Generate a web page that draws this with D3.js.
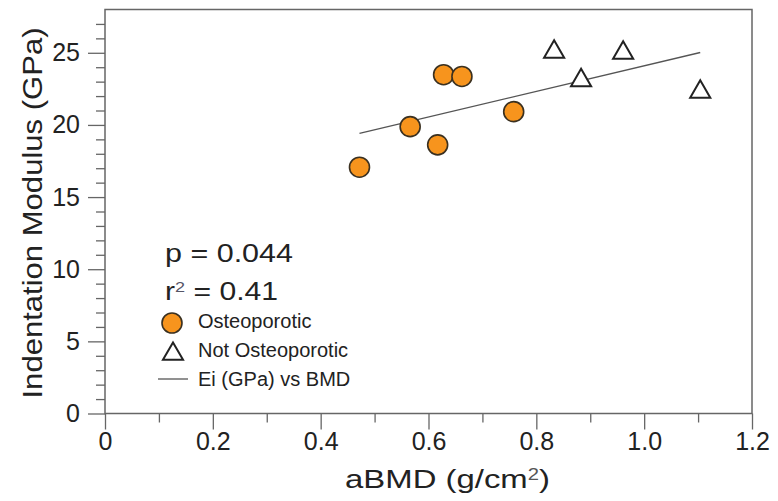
<!DOCTYPE html>
<html>
<head>
<meta charset="utf-8">
<script src="https://cdn.jsdelivr.net/npm/d3@7"></script>
<style>
  body { margin: 0; background: #fff; }
  text { font-family: "Liberation Sans", Arial, Helvetica, sans-serif; fill: #222; }
</style>
</head>
<body>
<div id="chart"></div>
<script>
// Osteoporotic samples (aBMD g/cm2, indentation modulus GPa)
const osteoBMD = [0.472, 0.566, 0.628, 0.662, 0.617, 0.758];
const osteoEi  = [17.07, 19.88, 23.48, 23.36, 18.62, 20.92];

// Not osteoporotic samples
const notOsteoBMD = [0.833, 0.961, 0.883, 1.104];
const notOsteoEi  = [25.06, 24.99, 23.09, 22.29];

// Fit line end points
const fitBMD = [0.472, 1.104];
const fitEi  = [19.42, 25.02];

const xTicks = [0, 0.2, 0.4, 0.6, 0.8, 1.0, 1.2];
const xTickLabels = ["0", "0.2", "0.4", "0.6", "0.8", "1.0", "1.2"];
const yTicks = [0, 5, 10, 15, 20, 25];
const legendLabels = ["Osteoporotic", "Not Osteoporotic", "Ei (GPa) vs BMD"];

const W = 778, H = 501;
const svg = d3.select("#chart").append("svg")
    .attr("width", W)
    .attr("height", H);

const x = d3.scaleLinear().domain([0, 1.2]).range([105, 752]);
const y = d3.scaleLinear().domain([0, 28]).range([413.5, 9.5]);

const axisColor = "#666";
const orange = "#f7941d";

// minor ticks
const xMinor = d3.range(0.1, 1.2, 0.2);
const yMinor = d3.range(1, 28).filter(v => v % 5 !== 0);

svg.append("g")
    .attr("transform", `translate(0,${y(0)})`)
    .call(d3.axisBottom(x).tickValues(xMinor).tickSize(9).tickFormat(""))
    .call(g => g.select(".domain").remove());

svg.append("g")
    .attr("transform", `translate(${x(0)},0)`)
    .call(d3.axisLeft(y).tickValues(yMinor).tickSize(9).tickFormat(""))
    .call(g => g.select(".domain").remove());

// major ticks with labels
const xAxis = svg.append("g")
    .attr("transform", `translate(0,${y(0)})`)
    .call(d3.axisBottom(x).tickValues(xTicks).tickSize(16).tickPadding(3)
        .tickFormat((d, i) => xTickLabels[i]))
    .call(g => g.select(".domain").remove());

const yAxis = svg.append("g")
    .attr("transform", `translate(${x(0)},0)`)
    .call(d3.axisLeft(y).tickValues(yTicks).tickSize(17).tickPadding(8))
    .call(g => g.select(".domain").remove());

svg.selectAll(".tick line").attr("stroke", axisColor).attr("stroke-width", 1.3);
svg.selectAll(".tick text")
    .attr("font-family", "Liberation Sans, Arial, sans-serif")
    .attr("font-size", 25)
    .attr("fill", "#222");

// frame
svg.append("rect")
    .attr("x", x(0))
    .attr("y", y(28))
    .attr("width", x(1.2) - x(0))
    .attr("height", y(0) - y(28))
    .attr("fill", "none")
    .attr("stroke", axisColor)
    .attr("stroke-width", 1.5);

// fit line
svg.append("line")
    .attr("x1", x(fitBMD[0]))
    .attr("y1", y(fitEi[0]))
    .attr("x2", x(fitBMD[1]))
    .attr("y2", y(fitEi[1]))
    .attr("stroke", "#555")
    .attr("stroke-width", 1.3);

// osteoporotic circles
svg.selectAll(".osteo")
    .data(osteoBMD)
    .enter()
    .append("circle")
    .attr("class", "osteo")
    .attr("cx", d => x(d))
    .attr("cy", (d, i) => y(osteoEi[i]))
    .attr("r", 10)
    .attr("fill", orange)
    .attr("stroke", "#3a3020")
    .attr("stroke-width", 1.6);

// not osteoporotic triangles
const tri = d3.symbol().type(d3.symbolTriangle).size(175);
svg.selectAll(".notosteo")
    .data(notOsteoBMD)
    .enter()
    .append("path")
    .attr("class", "notosteo")
    .attr("d", tri)
    .attr("transform", (d, i) => `translate(${x(d)},${y(notOsteoEi[i])})`)
    .attr("fill", "#fff")
    .attr("stroke", "#222")
    .attr("stroke-width", 2);

// axis titles
svg.append("text")
    .attr("transform", "translate(42,213) rotate(-90)")
    .attr("text-anchor", "middle")
    .attr("font-size", 28)
    .attr("textLength", 371)
    .attr("lengthAdjust", "spacingAndGlyphs")
    .text("Indentation Modulus (GPa)");

const xTitle = svg.append("text")
    .attr("x", 345)
    .attr("y", 488)
    .attr("font-size", 26)
    .attr("textLength", 205)
    .attr("lengthAdjust", "spacingAndGlyphs");
xTitle.append("tspan").text("aBMD (g/cm");
xTitle.append("tspan").attr("font-size", 16).attr("baseline-shift", "super").attr("fill", "#555").text("2");
xTitle.append("tspan").text(")");

// statistics
svg.append("text")
    .attr("x", 165)
    .attr("y", 262)
    .attr("font-size", 25)
    .attr("textLength", 128)
    .attr("lengthAdjust", "spacingAndGlyphs")
    .text("p = 0.044");

const r2 = svg.append("text")
    .attr("x", 165)
    .attr("y", 300)
    .attr("font-size", 25)
    .attr("textLength", 113)
    .attr("lengthAdjust", "spacingAndGlyphs");
r2.append("tspan").text("r");
r2.append("tspan").attr("font-size", 15).attr("baseline-shift", "super").attr("fill", "#556").text("2");
r2.append("tspan").text(" = 0.41");

// legend
const legend = svg.append("g").attr("transform", "translate(172,323)");

legend.append("circle")
    .attr("cx", 0)
    .attr("cy", 0)
    .attr("r", 10)
    .attr("fill", orange)
    .attr("stroke", "#3a3020")
    .attr("stroke-width", 1.6);

legend.append("path")
    .attr("d", tri)
    .attr("transform", "translate(1,31)")
    .attr("fill", "#fff")
    .attr("stroke", "#222")
    .attr("stroke-width", 2);

legend.append("line")
    .attr("x1", -14)
    .attr("y1", 56)
    .attr("x2", 16)
    .attr("y2", 56)
    .attr("stroke", "#555")
    .attr("stroke-width", 1.3);

legend.selectAll(".lab")
    .data(legendLabels)
    .enter()
    .append("text")
    .attr("class", "lab")
    .attr("x", 26)
    .attr("y", (d, i) => 5 + i * 29)
    .attr("font-size", 20)
    .text(d => d);
</script>
</body>
</html>
